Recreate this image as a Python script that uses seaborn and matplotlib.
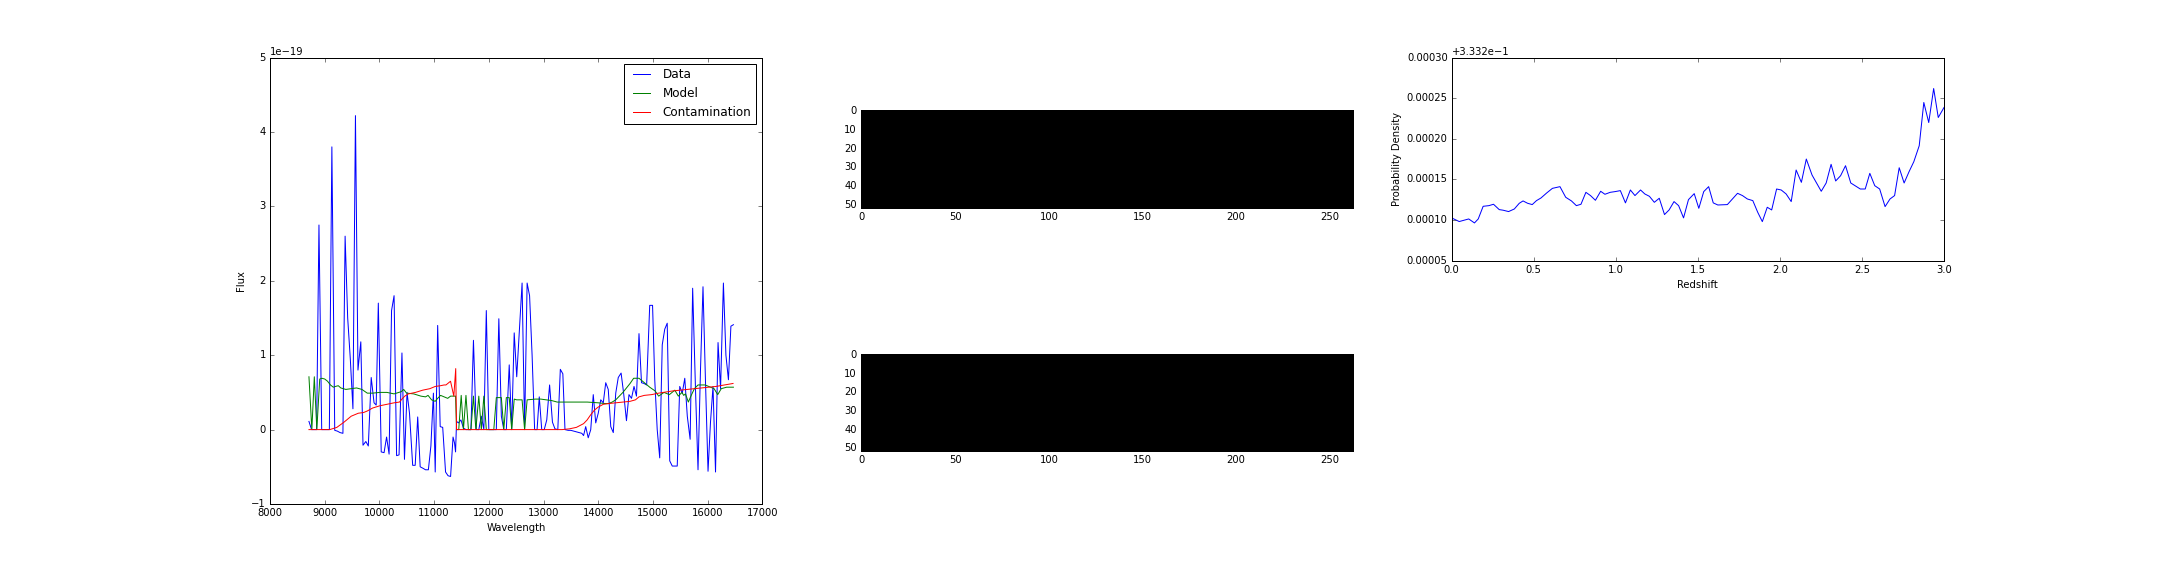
import matplotlib
matplotlib.use('Agg')
import matplotlib.pyplot as plt
import numpy as np
import pandas as pd
import seaborn as sns
from matplotlib.ticker import ScalarFormatter

# old-school matplotlib look
plt.style.use('classic')
plt.rcParams['font.size'] = 10
plt.rcParams['font.family'] = ['DejaVu Sans']

# ---- spectrum (flux in units of 1e-19) ----
data_wave = [8712, 8760, 8806, 8852, 8895, 8945, 8990, 9040, 9085, 9131, 9183, 9230, 9280, 9333, 9373,
             9420, 9468, 9516, 9562, 9608, 9660, 9700, 9752, 9797, 9850, 9902, 9941, 9980, 10033, 10085,
             10131, 10177, 10222, 10268, 10314, 10359, 10412, 10458, 10505, 10550, 10608, 10654, 10700,
             10745, 10797, 10843, 10895, 10941, 10987, 11020, 11065, 11111, 11157, 11209, 11255, 11301,
             11346, 11373, 11392, 11410, 11445, 11490, 11536, 11582, 11627, 11673, 11719, 11771, 11817,
             11863, 11909, 11954, 12000, 12046, 12091, 12137, 12183, 12229, 12274, 12320, 12373, 12418,
             12464, 12510, 12556, 12608, 12654, 12700, 12745, 12791, 12837, 12882, 12922, 12967, 13013,
             13059, 13111, 13163, 13209, 13261, 13307, 13353, 13392, 13450, 13500, 13550, 13600, 13650,
             13700, 13732, 13771, 13817, 13863, 13909, 13954, 14000, 14046, 14092, 14137, 14183, 14229,
             14275, 14320, 14366, 14418, 14464, 14516, 14562, 14608, 14654, 14699, 14745, 14791, 14837,
             14885, 14941, 14993, 15033, 15078, 15124, 15170, 15216, 15261, 15307, 15353, 15399, 15444,
             15490, 15536, 15582, 15628, 15680, 15726, 15778, 15824, 15869, 15915, 15961, 16007, 16052,
             16098, 16144, 16190, 16236, 16288, 16334, 16380, 16425, 16471]
data_flux = [0.11, 0.0, 0.0, 0.0, 2.75, 0.0, 0.0, 0.0, 0.0, 3.8, -0.01, -0.02, -0.04, -0.05, 2.6,
             1.5, 0.95, 0.28, 4.22, 0.8, 1.18, -0.21, -0.16, -0.22, 0.7, 0.36, 0.33, 1.7, -0.3, -0.31,
             -0.1, -0.33, 1.6, 1.8, -0.35, -0.34, 1.03, -0.4, 0.5, 0.22, -0.48, -0.48, 0.17,
             -0.5, -0.52, -0.54, -0.54, -0.22, 0.49, -0.57, 1.4, 0.04, 0.03, -0.57, -0.62, -0.63,
             -0.1, -0.18, -0.3, 0.11, 0.09, 0.13, 0.02, 0.0, 0.0, 0.0, 1.2, 0.0, 0.0,
             0.18, 0.0, 1.6, 0.0, 0.0, 0.0, 0.0, 1.49, 0.18, 0.0, 0.0, 0.87, 0.0,
             1.3, 0.71, 1.29, 1.97, 0.0, 1.97, 1.8, 1.0, 0.0, 0.0, 0.44, 0.0, 0.0,
             0.13, 0.6, 0.1, 0.01, 0.0, 0.81, 0.75, 0.0, -0.01, -0.01, -0.02, -0.03, -0.04,
             -0.05, -0.08, 0.04, -0.11, 0.0, 0.47, 0.09, 0.22, 0.4, 0.36, 0.63, 0.54, 0.04,
             -0.04, 0.49, 0.7, 0.76, 0.49, 0.12, 0.47, 0.42, 0.58, 0.45, 1.29, 0.63, 0.62,
             0.6, 1.67, 1.67, 0.67, 0.0, -0.38, 1.14, 1.35, 1.43, -0.42, -0.49, -0.49, -0.49,
             0.58, 0.49, 0.69, 0.18, -0.13, 1.9, 0.54, -0.54, 0.8, 1.92, 0.63, -0.56, 0.1,
             0.58, -0.57, 1.17, 0.55, 1.97, 1.0, 0.67, 1.39, 1.41]

model_wave = [8712, 8765, 8810, 8856, 8909, 8948, 9000, 9052, 9105, 9157, 9196, 9248, 9294, 9340, 9386,
              9484, 9582, 9680, 9778, 9876, 10007, 10137, 10268, 10399, 10444, 10497, 10627, 10758,
              10843, 10889, 10954, 11020, 11065, 11118, 11183, 11248, 11301, 11392, 11410, 11450,
              11495, 11536, 11582, 11627, 11673, 11719, 11763, 11817, 11863, 11909, 11954, 12000,
              12046, 12091, 12137, 12183, 12229, 12274, 12320, 12373, 12418, 12464, 12510, 12556,
              12608, 12654, 12700, 12850, 12950, 13050, 13150, 13250, 13500, 13800, 14000, 14124,
              14189, 14255, 14320, 14451, 14582, 14647, 14745, 14811, 14941, 15039, 15105, 15203,
              15300, 15400, 15464, 15530, 15562, 15595, 15647, 15706, 15758, 15824, 15954, 16118,
              16184, 16249, 16347, 16471]
model_flux = [0.71, 0.0, 0.71, 0.0, 0.68, 0.69, 0.68, 0.65, 0.6, 0.57, 0.58, 0.59, 0.56, 0.55, 0.54,
              0.55, 0.56, 0.54, 0.49, 0.49, 0.5, 0.5, 0.48, 0.51, 0.54, 0.49, 0.48, 0.45,
              0.44, 0.46, 0.4, 0.38, 0.42, 0.46, 0.44, 0.42, 0.45, 0.45, 0.0, 0.0,
              0.46, 0.0, 0.46, 0.0, 0.0, 0.45, 0.0, 0.45, 0.0, 0.45, 0.0, 0.0,
              0.0, 0.0, 0.43, 0.43, 0.43, 0.0, 0.43, 0.43, 0.0, 0.41, 0.4, 0.4,
              0.4, 0.0, 0.4, 0.41, 0.41, 0.4, 0.39, 0.37, 0.37, 0.37, 0.36, 0.35,
              0.35, 0.37, 0.4, 0.5, 0.62, 0.69, 0.69, 0.65, 0.57, 0.52, 0.45, 0.5,
              0.47, 0.53, 0.45, 0.5, 0.46, 0.48, 0.37, 0.47, 0.55, 0.6, 0.6, 0.55,
              0.47, 0.55, 0.57, 0.57]

contam_wave = [8712, 9092, 9222, 9353, 9484, 9614, 9712, 9778, 9876, 10007, 10137, 10268, 10366, 10412,
               10464, 10529, 10660, 10791, 10922, 11020, 11118, 11183, 11216, 11250, 11300, 11360,
               11395, 11410, 13340, 13471, 13601, 13732, 13797, 13863, 13928, 13993, 14092, 14190,
               14320, 14451, 14582, 14680, 14745, 14843, 14974, 15105, 15366, 15628, 15889, 16151, 16464]
contam_flux = [0.0, 0.0, 0.03, 0.1, 0.18, 0.22, 0.23, 0.25, 0.29, 0.32, 0.34, 0.36, 0.37, 0.41,
               0.45, 0.48, 0.5, 0.53, 0.55, 0.58, 0.59, 0.6, 0.6, 0.62, 0.65, 0.45,
               0.82, 0.0, 0.0, 0.01, 0.03, 0.08, 0.13, 0.2, 0.26, 0.3, 0.34, 0.35,
               0.36, 0.37, 0.38, 0.4, 0.44, 0.46, 0.47, 0.49, 0.52, 0.54, 0.56, 0.58, 0.62]

# ---- redshift probability density ----
redshift = [0.0, 0.046, 0.104, 0.139, 0.162, 0.192, 0.227, 0.255, 0.29, 0.313, 0.347, 0.382, 0.412,
            0.435, 0.463, 0.491, 0.517, 0.544, 0.579, 0.614, 0.66, 0.695, 0.73, 0.76, 0.788, 0.818,
            0.846, 0.876, 0.908, 0.934, 0.966, 0.996, 1.028, 1.059, 1.089, 1.117, 1.151, 1.177,
            1.205, 1.235, 1.265, 1.297, 1.325, 1.355, 1.383, 1.413, 1.443, 1.478, 1.506, 1.536,
            1.566, 1.594, 1.622, 1.68, 1.742, 1.772, 1.802, 1.835, 1.865, 1.893, 1.923, 1.95, 1.98,
            2.008, 2.038, 2.069, 2.099, 2.131, 2.161, 2.196, 2.252, 2.282, 2.312, 2.34, 2.37, 2.4,
            2.432, 2.49, 2.52, 2.548, 2.578, 2.608, 2.641, 2.671, 2.699, 2.727, 2.757, 2.787, 2.816,
            2.849, 2.877, 2.907, 2.937, 2.965, 3.0]
prob_density = [0.3333025, 0.3332980, 0.3333012, 0.3332963, 0.3333012, 0.3333168, 0.3333176,
                0.3333193, 0.3333127, 0.3333120, 0.3333103, 0.3333135, 0.3333205, 0.3333234,
                0.3333205, 0.3333189, 0.3333238, 0.3333270, 0.3333332, 0.3333389, 0.3333410,
                0.3333279, 0.3333234, 0.3333176, 0.3333193, 0.3333340, 0.3333300, 0.3333242,
                0.3333353, 0.3333316, 0.3333340, 0.3333349, 0.3333361, 0.3333210, 0.3333369,
                0.3333300, 0.3333369, 0.3333320, 0.3333291, 0.3333217, 0.3333267, 0.3333066,
                0.3333123, 0.3333226, 0.3333176, 0.3333025, 0.3333250, 0.3333324, 0.3333143,
                0.3333349, 0.3333410, 0.3333210, 0.3333184, 0.3333189, 0.3333328, 0.3333300,
                0.3333258, 0.3333238, 0.3333094, 0.3332979, 0.3333156, 0.3333123, 0.3333381,
                0.3333369, 0.3333320, 0.3333226, 0.3333615, 0.3333463, 0.3333750, 0.3333553,
                0.3333353, 0.3333455, 0.3333685, 0.3333480, 0.3333545, 0.3333668, 0.3333455,
                0.3333381, 0.3333381, 0.3333574, 0.3333422, 0.3333381, 0.3333164, 0.3333258,
                0.3333300, 0.3333643, 0.3333455, 0.3333594, 0.3333717, 0.3333914, 0.3334447,
                0.3334200, 0.3334619, 0.3334262, 0.3334385]

# ---- blank 2D spectra (all zero) ----
img_rows, img_cols = 52, 263
img_top = np.zeros((img_rows, img_cols))
img_bottom = np.zeros((img_rows, img_cols))

fig = plt.figure(figsize=(30, 8), dpi=72)
gs = fig.add_gridspec(2, 3, left=0.125, right=0.9, bottom=0.125, top=0.9, wspace=0.2, hspace=0.2)

# spectrum panel
ax1 = fig.add_subplot(gs[:, 0])
sns.lineplot(x=np.array(data_wave), y=np.array(data_flux) * 1e-19, ax=ax1, color='b',
             estimator=None, sort=False, label='Data')
sns.lineplot(x=np.array(model_wave), y=np.array(model_flux) * 1e-19, ax=ax1, color='g',
             estimator=None, sort=False, label='Model')
sns.lineplot(x=np.array(contam_wave), y=np.array(contam_flux) * 1e-19, ax=ax1, color='r',
             estimator=None, sort=False, label='Contamination')
ax1.set_xlim(8000, 17000)
ax1.set_ylim(-1e-19, 5e-19)
ax1.set_xticks(np.arange(8000, 17001, 1000))
ax1.set_yticks(np.arange(-1, 6) * 1e-19)
ax1.set_xlabel('Wavelength')
ax1.set_ylabel('Flux')
ax1.legend(loc='upper right')

# 2D images
for pos, img in [(gs[0, 1], img_top), (gs[1, 1], img_bottom)]:
    ax = fig.add_subplot(pos)
    ax.imshow(img, cmap='gray', vmin=0, vmax=1, interpolation='nearest', aspect='equal')
    ax.set_xticks([0, 50, 100, 150, 200, 250])
    ax.set_yticks([0, 10, 20, 30, 40, 50])

# redshift PDF
ax3 = fig.add_subplot(gs[0, 2])
sns.lineplot(x=redshift, y=prob_density, ax=ax3, color='b', estimator=None, sort=False)
ax3.set_xlim(0, 3)
ax3.set_ylim(0.33325, 0.3335)
ax3.set_xticks([0.0, 0.5, 1.0, 1.5, 2.0, 2.5, 3.0])
ax3.set_yticks([0.33325, 0.3333, 0.33335, 0.3334, 0.33345, 0.3335])
ax3.yaxis.set_major_formatter(ScalarFormatter(useOffset=0.3332))
ax3.set_xlabel('Redshift')
ax3.set_ylabel('Probability Density')

fig.savefig('out.png', dpi=72, facecolor='white')
